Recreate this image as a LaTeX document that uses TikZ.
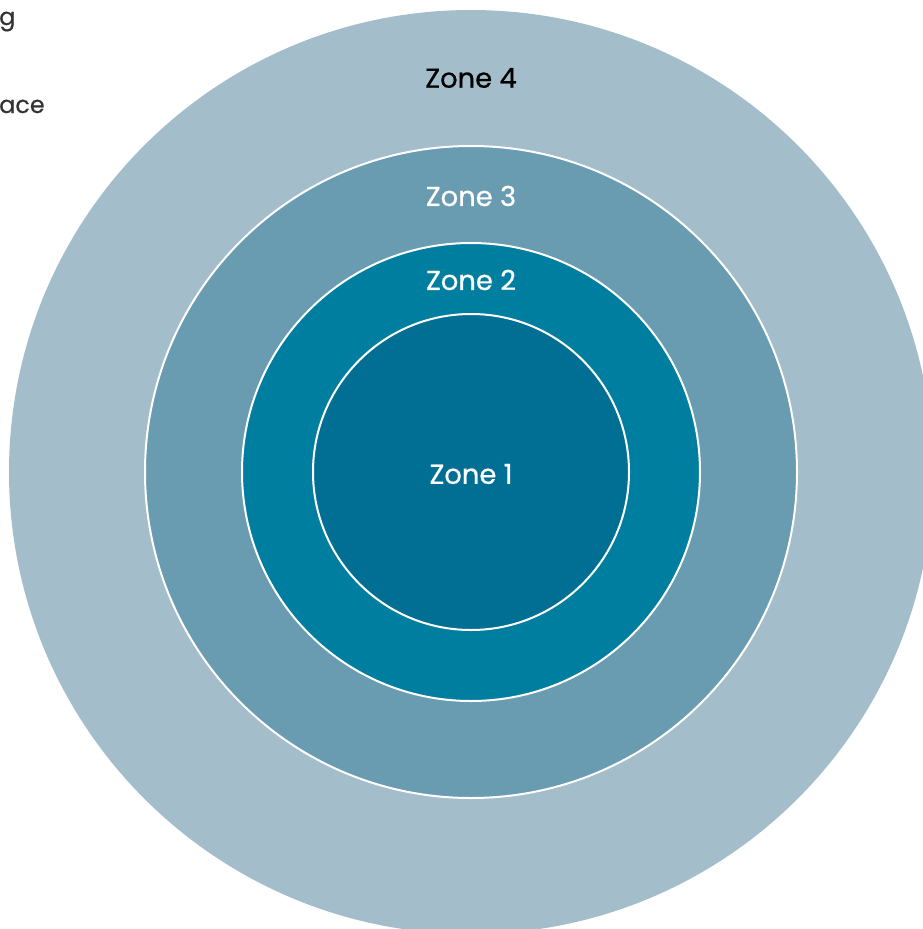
\documentclass[tikz,border=0pt]{standalone}
\usepackage{fontspec}
\setmainfont{Poppins}
\newfontfamily\zonefont[FakeBold=0.6]{Poppins}
\newfontfamily\sidefont[FakeBold=0.4]{Poppins}
\definecolor{zfour}{HTML}{A3BDCB}
\definecolor{zthree}{HTML}{699BB1}
\definecolor{ztwo}{HTML}{007E9F}
\definecolor{zone}{HTML}{016F94}
\definecolor{side}{HTML}{333333}
\begin{document}
\begin{tikzpicture}[x=1bp,y=-1bp,
  ring/.style={draw=white,line width=2bp},
  lab/.style={font=\zonefont\fontsize{27.5}{32}\selectfont,text=white,inner sep=0pt},
  sidetext/.style={font=\sidefont\fontsize{24}{28}\selectfont,text=side,inner sep=0pt,anchor=base west}]
\useasboundingbox (0,0) rectangle (923,929);
\clip (0,0) rectangle (923,929);
\coordinate (c) at (471,472);
\fill[zfour] (c) circle[radius=462];
\filldraw[ring,fill=zthree] (c) circle[radius=326];
\filldraw[ring,fill=ztwo] (c) circle[radius=229];
\filldraw[ring,fill=zone] (c) circle[radius=158];
\node[lab,text=black] (l4) at (471,78) {Zone 4};
\node[lab] (l3) at (471,196) {Zone 3};
\node[lab] (l2) at (471,280) {Zone 2};
\node[lab] (l1) at (471,474) {Zone 1};
\node[sidetext] (s1) at (-1,25) {g};
\node[sidetext] (s2) at (-1,113) {ace};
\end{tikzpicture}
\end{document}
